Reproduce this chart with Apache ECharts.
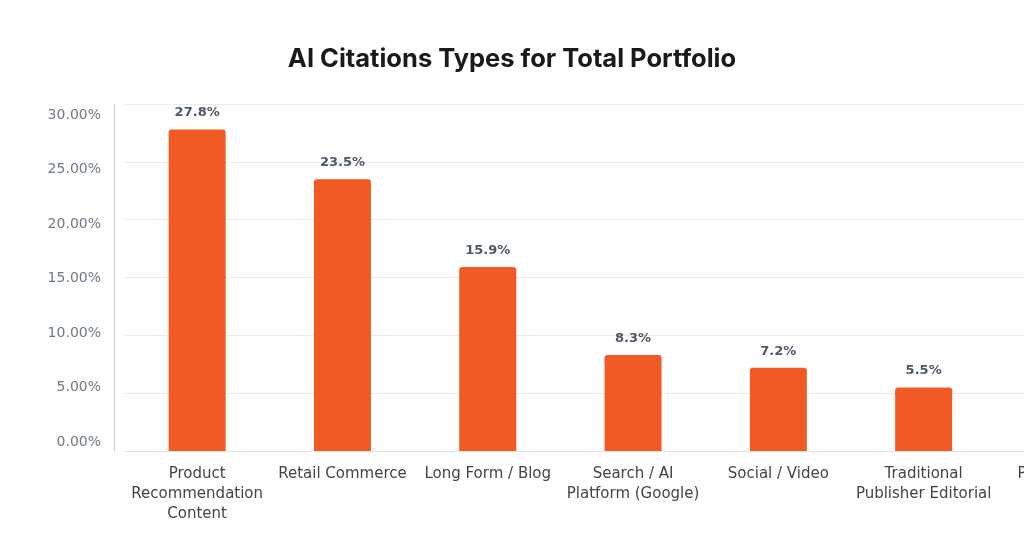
<!DOCTYPE html>
<html lang="en">
<head>
    <meta charset="UTF-8">
    <title>AI Citations Types</title>
    <script src="https://cdn.jsdelivr.net/npm/echarts@6/dist/echarts.min.js"></script>
    <style>
        html, body { margin: 0; padding: 0; background: #fff; overflow: hidden; }
        #main { width: 1200px; height: 556px; }
    </style>
</head>
<body>
<div id="main"></div>
<script>
    // data
    var categories = ['Product\nRecommendation\nContent', 'Retail Commerce', 'Long Form / Blog',
        'Search / AI\nPlatform (Google)', 'Social / Video', 'Traditional\nPublisher Editorial', 'Press Release'];
    var shares = [27.8, 23.5, 15.9, 8.3, 7.2, 5.5, 4.6];
    var yTicks = [0, 5, 10, 15, 20, 25, 30];

    var myChart = echarts.init(document.getElementById('main'));

    var yMin = yTicks[0], yMax = yTicks[yTicks.length - 1];

    var option = {
        animation: false,
        title: {
            text: 'AI Citations Types for Total Portfolio',
            left: 507,
            textAlign: 'center',
            top: 41,
            textStyle: { fontFamily: 'Inter', fontWeight: 'bold', fontSize: 25.5, color: '#1a1a1a' }
        },
        grid: [
            { left: 124.5, right: 58.4, top: 104, bottom: 105 },
            // labels of the value axis sit a little inside the gridlines in the original
            { left: 124.5, right: 58.4, top: 115, bottom: 114 }
        ],
        xAxis: [{
            type: 'category',
            data: categories,
            axisTick: { show: false },
            axisLine: { lineStyle: { color: '#e2e2e2' } },
            axisLabel: {
                interval: 0,
                margin: 13,
                lineHeight: 20,
                fontFamily: 'DejaVu Sans',
                fontSize: 15,
                color: '#444'
            }
        }, {
            type: 'category',
            gridIndex: 1,
            data: categories,
            show: false
        }],
        yAxis: [{
            type: 'value',
            min: yMin,
            max: yMax,
            interval: 5,
            offset: 10.5,
            axisLine: { show: true, lineStyle: { color: '#d0d0d0' } },
            axisTick: { show: false },
            splitLine: { lineStyle: { color: '#ececec' } },
            axisLabel: { show: false }
        }, {
            type: 'value',
            gridIndex: 1,
            min: yMin,
            max: yMax,
            interval: 5,
            offset: 10.5,
            axisLine: { show: false },
            axisTick: { show: false },
            splitLine: { show: false },
            axisLabel: {
                margin: 13,
                fontFamily: 'DejaVu Sans',
                fontSize: 14,
                color: '#6f7a85',
                formatter: function (v) { return v.toFixed(2) + '%'; }
            }
        }],
        series: [{
            type: 'bar',
            data: shares,
            barWidth: 57,
            itemStyle: { color: '#f15a24', borderRadius: [3, 3, 0, 0] },
            label: {
                show: true,
                position: 'top',
                distance: 10,
                fontFamily: 'DejaVu Sans',
                fontWeight: 'bold',
                fontSize: 13,
                color: '#4b5967',
                formatter: function (p) { return p.value.toFixed(1) + '%'; }
            }
        }]
    };

    myChart.setOption(option);
</script>
</body>
</html>
